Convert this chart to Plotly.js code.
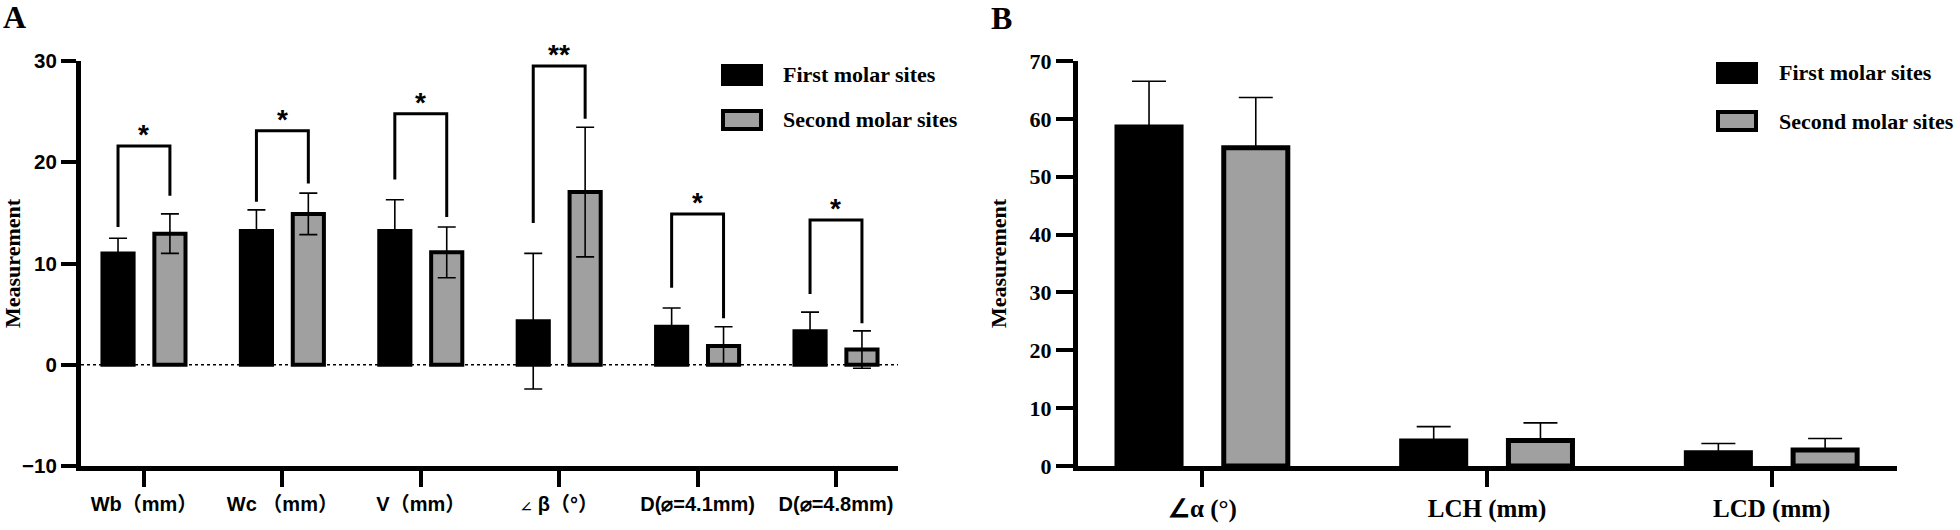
<!DOCTYPE html>
<html><head><meta charset="utf-8">
<script src="https://cdn.plot.ly/plotly-3.0.1.min.js"></script>
<style>html,body{margin:0;padding:0;background:#fff}</style>
</head><body><div id="chart" style="width:1960px;height:530px"></div>
<script>
// ---------- Panel A data ----------
const labelsA = ["Wb（mm）", "Wc （mm）", "V（mm）", "<span style=\"font-size:12px\">∠</span> β（°）", "D(⌀=4.1mm)", "D(⌀=4.8mm)"];
const firstA = [11.0, 13.2, 13.2, 4.3, 3.75, 3.3];
const firstAErr = [1.5, 2.1, 3.1, 6.7, 1.85, 1.9];
const secondA = [12.95, 14.9, 11.1, 17.05, 1.85, 1.5];
const secondAErr = [1.95, 2.05, 2.5, 6.4, 1.9, 1.85];
const bracketTopA = [21.6, 23.1, 24.8, 29.5, 14.9, 14.3];
const bracketLeftA = [13.6, 16.1, 18.3, 14.0, 7.6, 7.0];
const bracketRightA = [16.7, 17.9, 14.6, 24.3, 4.6, 4.1];
const starsA = ["*", "*", "*", "**", "*", "*"];
const yTicksA = [-10, 0, 10, 20, 30];

// ---------- Panel B data ----------
const labelsB = ["∠α (°)", "LCH (mm)", "LCD (mm)"];
const firstB = [58.6, 4.3, 2.3];
const firstBErr = [7.9, 2.5, 1.6];
const secondB = [55.0, 4.4, 2.75];
const secondBErr = [8.7, 3.05, 2.0];
const yTicksB = [0, 10, 20, 30, 40, 50, 60, 70];

const seriesNames = ["First molar sites", "Second molar sites"];

// ---------- style constants ----------
const W = 1960, H = 530;
const BLACK = "#000000", GRAY = "#a0a0a0";
const SANS = "Liberation Sans, Arial, Noto Sans CJK SC, sans-serif";
const SERIF = "Liberation Serif, Times New Roman, serif";
const BARGAP = 0.25;
const OFF = (1 - BARGAP) / 4;
const px = v => v / W;
const py = v => 1 - v / H;

const idxA = labelsA.map((_, i) => i);
const idxB = labelsB.map((_, i) => i);

const traces = [
  {type: "bar", x: idxA, y: firstA, name: seriesNames[0], xaxis: "x", yaxis: "y",
   marker: {color: BLACK, line: {color: BLACK, width: 4}},
   error_y: {type: "data", array: firstAErr, visible: true, color: BLACK, thickness: 1.6, width: 9}},
  {type: "bar", x: idxA, y: secondA, name: seriesNames[1], xaxis: "x", yaxis: "y",
   marker: {color: GRAY, line: {color: BLACK, width: 4}},
   error_y: {type: "data", array: secondAErr, visible: true, color: BLACK, thickness: 1.6, width: 9}},
  {type: "bar", x: idxB, y: firstB, name: seriesNames[0], xaxis: "x2", yaxis: "y2",
   marker: {color: BLACK, line: {color: BLACK, width: 5}},
   error_y: {type: "data", symmetric: false, array: firstBErr, arrayminus: firstBErr.map(() => 0), visible: true, color: BLACK, thickness: 1.6, width: 17}},
  {type: "bar", x: idxB, y: secondB, name: seriesNames[1], xaxis: "x2", yaxis: "y2",
   marker: {color: GRAY, line: {color: BLACK, width: 5}},
   error_y: {type: "data", symmetric: false, array: secondBErr, arrayminus: secondBErr.map(() => 0), visible: true, color: BLACK, thickness: 1.6, width: 17}}
];

// significance brackets
const bx = [], by = [];
idxA.forEach(i => {
  bx.push(i - OFF, i - OFF, i + OFF, i + OFF, null);
  by.push(bracketLeftA[i], bracketTopA[i], bracketTopA[i], bracketRightA[i], null);
});
traces.push({type: "scatter", mode: "lines", x: bx, y: by, xaxis: "x", yaxis: "y",
  line: {color: BLACK, width: 3}, hoverinfo: "skip", showlegend: false});

const annotations = idxA.map(i => ({
  xref: "x", yref: "y", x: i, y: bracketTopA[i], text: starsA[i], showarrow: false,
  yanchor: "bottom", yshift: -6, font: {family: SANS, size: 28, weight: 700, color: BLACK}
}));

// panel letters
annotations.push({xref: "paper", yref: "paper", x: px(1), y: py(17), xanchor: "left", yanchor: "middle",
  text: "A", showarrow: false, font: {family: SERIF, size: 32, weight: 700, color: BLACK}});
annotations.push({xref: "paper", yref: "paper", x: px(989), y: py(18), xanchor: "left", yanchor: "middle",
  text: "B", showarrow: false, font: {family: SERIF, size: 32, weight: 700, color: BLACK}});

// custom legends
const shapes = [];
function legend(x0, yBlack, yGray, textX, tyBlack, tyGray) {
  shapes.push({type: "rect", xref: "paper", yref: "paper", x0: px(x0), x1: px(x0 + 42),
    y0: py(yBlack + 22), y1: py(yBlack), fillcolor: BLACK, line: {width: 0}});
  shapes.push({type: "rect", xref: "paper", yref: "paper", x0: px(x0 + 2), x1: px(x0 + 40),
    y0: py(yGray + 20), y1: py(yGray + 2), fillcolor: GRAY, line: {color: BLACK, width: 4}});
  annotations.push({xref: "paper", yref: "paper", x: px(textX), y: py(tyBlack), xanchor: "left", yanchor: "middle",
    text: seriesNames[0], showarrow: false, font: {family: SERIF, size: 22, weight: 700, color: BLACK}});
  annotations.push({xref: "paper", yref: "paper", x: px(textX), y: py(tyGray), xanchor: "left", yanchor: "middle",
    text: seriesNames[1], showarrow: false, font: {family: SERIF, size: 22, weight: 700, color: BLACK}});
}
legend(721, 64, 109, 781, 75, 120);
legend(1716, 62, 110, 1777, 73, 121);

// dotted zero line in A
shapes.push({type: "line", xref: "x domain", yref: "y", x0: 0, x1: 1, y0: 0, y1: 0,
  line: {color: BLACK, width: 1.5, dash: "dot"}, layer: "above"});

const axisCommon = {showline: true, linecolor: BLACK, ticks: "outside", tickcolor: BLACK,
  showgrid: false, zeroline: false, fixedrange: true};

const layout = {
  width: W, height: H, margin: {l: 0, r: 0, t: 0, b: 0},
  paper_bgcolor: "white", plot_bgcolor: "white",
  showlegend: false, barmode: "group", bargap: BARGAP, bargroupgap: 0.4,
  xaxis: Object.assign({}, axisCommon, {domain: [px(81), px(898)], range: [-0.455, 5.448],
    tickvals: idxA, ticktext: labelsA, linewidth: 5, ticklen: 16, tickwidth: 4, anchor: "y",
    tickfont: {family: SANS, size: 20, weight: 700, color: BLACK}}),
  yaxis: Object.assign({}, axisCommon, {domain: [py(466), py(61)], range: [-10, 30],
    tickvals: yTicksA, linewidth: 5, ticklen: 15, tickwidth: 4, anchor: "x",
    tickfont: {family: SANS, size: 20.5, weight: 700, color: BLACK},
    title: {text: "Measurement", standoff: 9, font: {family: SERIF, size: 22, weight: 700, color: BLACK}}}),
  xaxis2: Object.assign({}, axisCommon, {domain: [px(1078), px(1897)], range: [-0.437, 2.44],
    tickvals: idxB, ticktext: labelsB, linewidth: 5, ticklen: 16, tickwidth: 4, anchor: "y2",
    tickfont: {family: SERIF, size: 25, weight: 700, color: BLACK}}),
  yaxis2: Object.assign({}, axisCommon, {domain: [py(466), py(61)], range: [0, 70],
    tickvals: yTicksB, linewidth: 5, ticklen: 17, tickwidth: 4, anchor: "x2",
    tickfont: {family: SERIF, size: 22, weight: 700, color: BLACK},
    title: {text: "Measurement", standoff: 18, font: {family: SERIF, size: 22, weight: 700, color: BLACK}}}),
  shapes: shapes,
  annotations: annotations
};

Plotly.newPlot("chart", traces, layout, {displayModeBar: false, staticPlot: true});
</script>
</body></html>
